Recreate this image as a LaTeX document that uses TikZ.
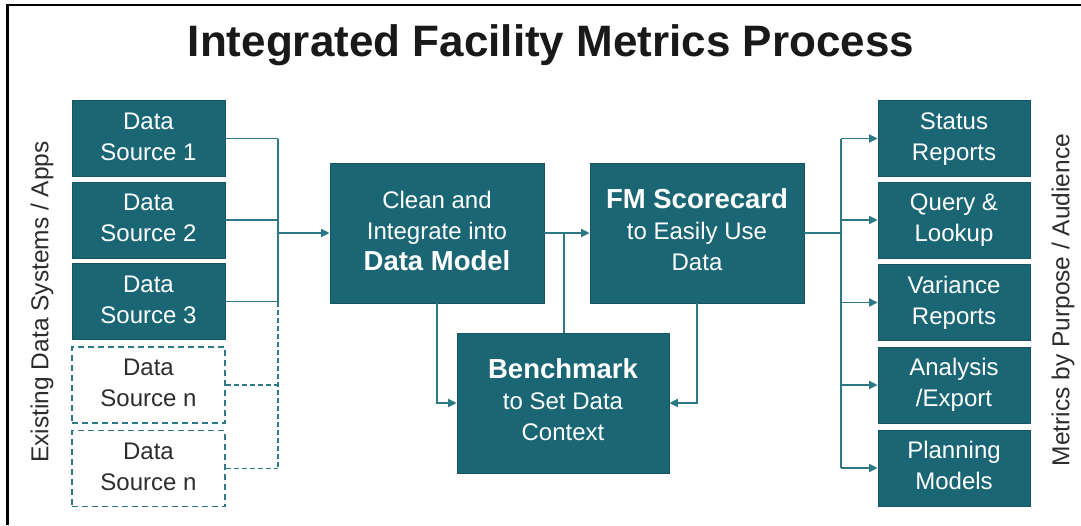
\documentclass[tikz,border=0pt]{standalone}
\usepackage{fontspec}
\setmainfont{Liberation Sans}
\usetikzlibrary{arrows.meta}
\definecolor{boxfill}{RGB}{27,102,117}
\definecolor{boxedge}{RGB}{22,84,96}
\definecolor{linec}{RGB}{45,120,135}
\definecolor{dgray}{RGB}{45,45,45}
\newcommand{\boxline}[1]{\strut#1}
\begin{document}
\begin{tikzpicture}[x=1pt,y=-1pt,
  base/.style={line width=0.8pt, inner sep=0pt, align=center, font=\fontsize{24}{31}\selectfont},
  solidbox/.style={base, draw=boxedge, fill=boxfill, text=white},
  dashbox/.style={base, draw=linec, line width=1.4pt, dash pattern=on 6pt off 4pt, fill=white, text=dgray},
  srcsize/.style={minimum width=153pt, minimum height=76pt},
  outsize/.style={minimum width=152pt, minimum height=76pt},
  bigsize/.style={minimum width=214pt, minimum height=140pt},
  conn/.style={draw=linec, line width=1.8pt},
  dconn/.style={conn, dash pattern=on 5pt off 3pt},
  arr/.style={conn, -{Triangle[length=8.5pt,width=8pt]}},
  side/.style={text=dgray, font=\fontsize{24.5}{30}\selectfont, rotate=90, inner sep=0pt}
]
\useasboundingbox (0,0) rectangle (1081,525);
\fill[white] (0,0) rectangle (1081,525);
\draw[black, line width=2.6pt] (7.5,525) -- (7.5,5) -- (1081,5);

% title
\node[anchor=base, inner sep=0pt, text=black!90, font=\fontsize{44}{50}\selectfont\bfseries] (title) at (551,56) {Integrated Facility Metrics Process};

% side labels
\node[side] (lside) at (42,302) {Existing Data Systems / Apps};
\node[side] (rside) at (1063,300) {Metrics by Purpose / Audience};

% sources
\node[solidbox, srcsize] (s1) at (148.5,138.5) {\boxline{Data}\\\boxline{Source 1}};
\node[solidbox, srcsize] (s2) at (148.5,220) {\boxline{Data}\\\boxline{Source 2}};
\node[solidbox, srcsize] (s3) at (148.5,301.5) {\boxline{Data}\\\boxline{Source 3}};
\node[dashbox, srcsize] (s4) at (148.5,385) {\boxline{Data}\\\boxline{Source n}};
\node[dashbox, srcsize] (s5) at (148.5,468.5) {\boxline{Data}\\\boxline{Source n}};

% central boxes
\node[solidbox, bigsize] (clean) at (437,233) {\boxline{Clean and}\\\boxline{Integrate into}\\{\bfseries\fontsize{27.5}{31}\selectfont\boxline{Data Model}}};
\node[solidbox, bigsize] (fm) at (697,233) {{\bfseries\fontsize{27.5}{31}\selectfont\boxline{FM Scorecard}}\\\boxline{to Easily Use}\\\boxline{Data}};
\node[solidbox, minimum width=212pt, minimum height=140pt] (bench) at (563,403) {{\bfseries\fontsize{27.5}{31}\selectfont\boxline{Benchmark}}\\\boxline{to Set Data}\\\boxline{Context}};

% outputs
\node[solidbox, outsize] (o1) at (954,138.5) {\boxline{Status}\\\boxline{Reports}};
\node[solidbox, outsize] (o2) at (954,220) {\boxline{Query \&}\\\boxline{Lookup}};
\node[solidbox, outsize] (o3) at (954,302.5) {\boxline{Variance}\\\boxline{Reports}};
\node[solidbox, outsize] (o4) at (954,385) {\boxline{Analysis}\\\boxline{/Export}};
\node[solidbox, outsize] (o5) at (954,468) {\boxline{Planning}\\\boxline{Models}};

% input bus
\coordinate (ibus) at (278,0);
\coordinate (ijoin) at (278,233);
\draw[conn] (s1.east) -- (s1.east -| ibus);
\draw[conn] (s2.east) -- (s2.east -| ibus);
\draw[conn] (s3.east) -- (s3.east -| ibus);
\draw[dconn] (s4.east) -- (s4.east -| ibus);
\draw[dconn] (s5.east) -- (s5.east -| ibus);
\draw[conn] (s1.east -| ibus) -- (s3.east -| ibus);
\draw[dconn] (s3.east -| ibus) -- (s5.east -| ibus);
\draw[arr] (ijoin) -- (clean.west);

% center links
\coordinate (cjoin) at (564,233);
\draw[arr] (clean.east) -- (fm.west);
\draw[conn] (cjoin) -- (cjoin |- bench.north);
\draw[arr] (clean.south) |- (bench.west);
\draw[arr] (fm.south) |- (bench.east);

% output bus
\coordinate (obus) at (841,0);
\draw[conn] (fm.east) -- (fm.east -| obus);
\draw[conn] (o1.west -| obus) -- (o5.west -| obus);
\foreach \o in {o1,o2,o3,o4,o5}{
  \draw[arr] (\o.west -| obus) -- (\o.west);
}
\end{tikzpicture}
\end{document}
